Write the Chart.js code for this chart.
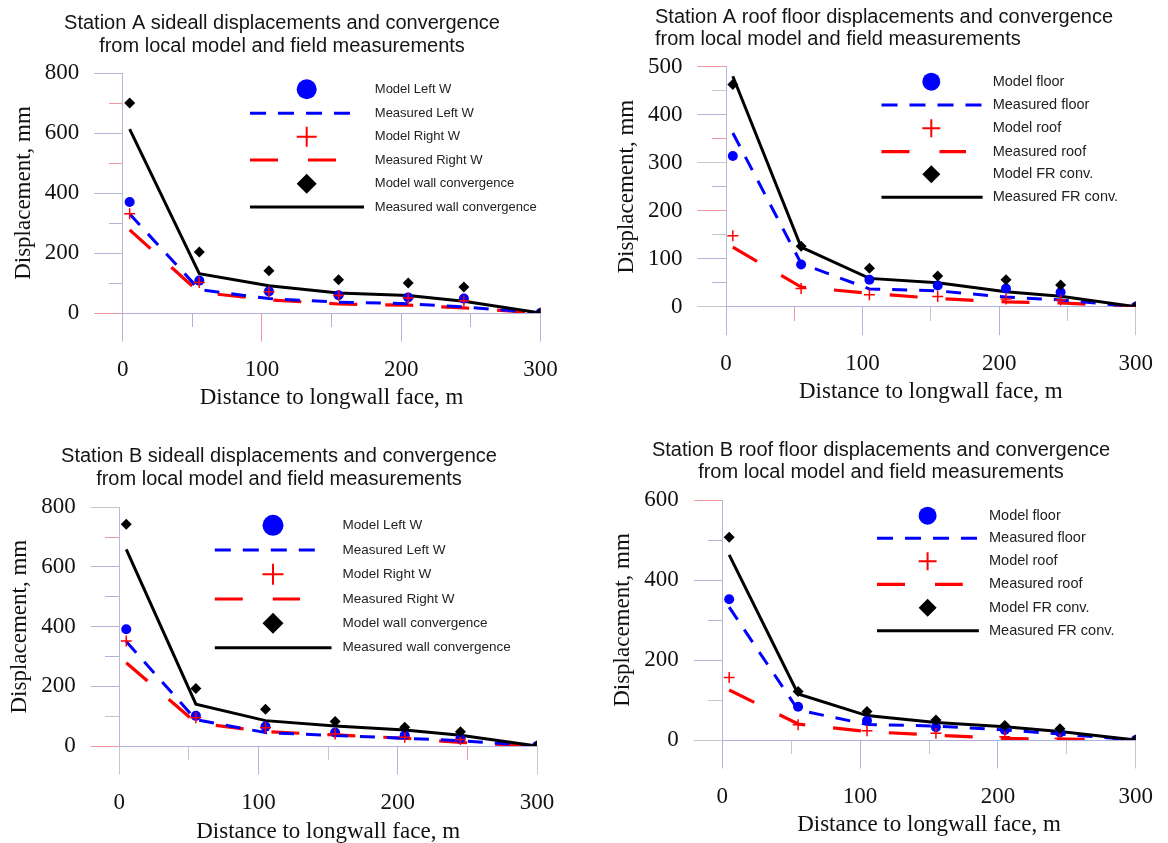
<!DOCTYPE html>
<html>
<head>
<meta charset="utf-8">
<script src="https://cdn.jsdelivr.net/npm/chart.js@4.4.1/dist/chart.umd.min.js"></script>
<style>
html,body{margin:0;padding:0;background:#fff;}
body{width:1168px;height:843px;position:relative;overflow:hidden;}
canvas{position:absolute;}
</style>
</head>
<body>
<canvas id="cTL" width="584" height="421" style="left:0px;top:0px"></canvas>
<canvas id="cTR" width="584" height="421" style="left:584px;top:0px"></canvas>
<canvas id="cBL" width="584" height="422" style="left:0px;top:421px"></canvas>
<canvas id="cBR" width="584" height="422" style="left:584px;top:421px"></canvas>
<script>
// ---------------- DATA ----------------
const distance = [5, 55, 105, 155, 205, 245, 300];

const sideLabels = ['Model Left W', 'Measured Left W', 'Model Right W', 'Measured Right W', 'Model wall convergence', 'Measured wall convergence'];
const roofLabels = ['Model floor', 'Measured floor', 'Model roof', 'Measured roof', 'Model FR conv.', 'Measured FR conv.'];

const titleA_side = ['Station A sideall displacements and convergence', 'from local model and field measurements'];
const titleA_roof = ['Station A roof floor displacements and convergence', 'from local model and field measurements'];
const titleB_side = ['Station B sideall displacements and convergence', 'from local model and field measurements'];
const titleB_roof = ['Station B roof floor displacements and convergence', 'from local model and field measurements'];

const xAxisTitle = 'Distance to longwall face, m';
const yAxisTitle = 'Displacement, mm';

// Station A sidewall
const aSideModelLeft  = [370, 108, 72, 59, 52, 48, 0];
const aSideMeasLeft   = [330, 78, 48, 36, 31, 20, 0];
const aSideModelRight = [331, 102, 71, 58, 50, 41, 0];
const aSideMeasRight  = [277, 69, 44, 30, 26, 17, 0];
const aSideModelConv  = [700, 203, 141, 111, 100, 87, 0];
const aSideMeasConv   = [613, 131, 91, 67, 58, 39, 0];

// Station A roof / floor
const aRoofModelFloor = [314, 88, 56, 44, 38, 30, 0];
const aRoofMeasFloor  = [362, 90, 37, 33, 20, 14, 0];
const aRoofModelRoof  = [148, 38, 25, 21, 16, 14, 0];
const aRoofMeasRoof   = [124, 41, 28, 17, 10, 8, 0];
const aRoofModelConv  = [463, 126, 80, 64, 56, 45, 0];
const aRoofMeasConv   = [480, 124, 59, 50, 31, 22, 0];

// Station B sidewall
const bSideModelLeft  = [391, 101, 65, 45, 36, 25, 0];
const bSideMeasLeft   = [350, 88, 45, 35, 26, 18, 0];
const bSideModelRight = [352, 95, 61, 40, 29, 22, 0];
const bSideMeasRight  = [279, 78, 48, 37, 26, 12, 0];
const bSideModelConv  = [743, 193, 123, 82, 63, 48, 0];
const bSideMeasConv   = [659, 140, 85, 67, 54, 36, 0];

// Station B roof / floor
const bRoofModelFloor = [352, 83, 48, 32, 25, 19, 0];
const bRoofMeasFloor  = [332, 75, 39, 35, 25, 15, 0];
const bRoofModelRoof  = [156, 38, 23, 17, 8, 4, 0];
const bRoofMeasRoof   = [125, 40, 21, 12, 4, 2, 0];
const bRoofModelConv  = [507, 121, 71, 50, 36, 28, 0];
const bRoofMeasConv   = [463, 115, 61, 44, 33, 21, 0];

// ---------------- STYLE ----------------
const SANS = '"Liberation Sans", Arial, sans-serif';
const SERIF = '"Liberation Serif", "Times New Roman", serif';
const TC = { r: '#ee98a0', b: '#b3b3d8', g: '#c6c6c6' };

function tickColorFn(map) {
  return (ctx) => {
    const v = ctx.tick ? ctx.tick.value : null;
    const k = map[v];
    return k ? TC[k] : 'rgba(0,0,0,0)';
  };
}

const insideLegend = {
  id: 'insideLegend',
  afterDraw(chart, args, o) {
    if (!o || !o.rows) return;
    const ctx = chart.ctx;
    ctx.save();
    chart.data.datasets.forEach((d, i) => {
      const y = o.rows[i];
      if (d.showLine) {
        ctx.beginPath();
        ctx.setLineDash(o.dash[i] || []);
        ctx.lineWidth = d.borderWidth;
        ctx.strokeStyle = d.borderColor;
        ctx.lineCap = 'butt';
        ctx.moveTo(o.lineX1, y);
        ctx.lineTo(o.lineX2[i], y);
        ctx.stroke();
        ctx.setLineDash([]);
      } else {
        const bw = d.pointStyle === 'cross' ? 2 : 0;
        ctx.fillStyle = d.backgroundColor || d.borderColor;
        ctx.strokeStyle = d.borderColor;
        ctx.lineWidth = bw;
        Chart.helpers.drawPoint(ctx, {pointStyle: d.pointStyle, rotation: 0, radius: o.markerR, borderWidth: bw}, o.symbolX, y);
      }
      ctx.fillStyle = '#222';
      ctx.font = o.fontSize + 'px ' + SANS;
      ctx.textAlign = 'left';
      ctx.textBaseline = 'middle';
      ctx.fillText(d.label, o.textX, y);
    });
    ctx.restore();
  }
};

// lets a left-aligned title start at a chosen x
const titleShift = {
  id: 'titleShift',
  afterLayout(chart, args, o) {
    if (o && typeof o.left === 'number' && chart.titleBlock) {
      chart.titleBlock.left = o.left;
    }
  }
};

function series(vals) {
  return distance.map((x, i) => ({x: x, y: vals[i]}));
}

function makeChart(id, P) {
  const L = P.labels;
  const datasets = [
    {label: L[0], data: series(P.s[0]), pointStyle: 'circle', pointRadius: 5, backgroundColor: '#0000ff', borderColor: '#0000ff', borderWidth: 0, order: -1},
    {label: L[1], data: series(P.s[1]), showLine: true, borderColor: '#0000ff', backgroundColor: '#0000ff', borderWidth: 3, borderDash: [15, 12], pointRadius: 0, tension: 0, order: 2},
    {label: L[2], data: series(P.s[2]), pointStyle: 'cross', pointRadius: 5.5, borderColor: '#ff0000', backgroundColor: '#ff0000', borderWidth: 1.5, order: -2},
    {label: L[3], data: series(P.s[3]), showLine: true, borderColor: '#ff0000', backgroundColor: '#ff0000', borderWidth: 3.2, borderDash: [28, 28], pointRadius: 0, tension: 0, order: 3},
    {label: L[4], data: series(P.s[4]), pointStyle: 'rectRot', pointRadius: 5.5, backgroundColor: '#000000', borderColor: '#000000', borderWidth: 0, order: -3},
    {label: L[5], data: series(P.s[5]), showLine: true, borderColor: '#000000', backgroundColor: '#000000', borderWidth: 3, pointRadius: 0, tension: 0, order: 1}
  ];
  const scales = {
    x: {
      type: 'linear', position: 'bottom', min: 0, max: 300,
      afterFit: (s) => { s.height = P.xHeight; },
      ticks: {stepSize: 100, autoSkip: false, maxRotation: 0, padding: 15, color: '#111', font: {family: SERIF, size: 23, lineHeight: 1.2}},
      grid: {drawOnChartArea: false, drawTicks: true, tickLength: 28.5, lineWidth: 1, color: tickColorFn(P.xMajor)},
      border: {display: true, color: '#b0b0de', width: 1},
      title: {display: true, text: xAxisTitle, color: '#111', font: {family: SERIF, size: 23, lineHeight: 1}, padding: {top: 0, bottom: P.xTitlePad}}
    },
    y: {
      type: 'linear', position: 'left', min: 0, max: P.yMax,
      afterFit: (s) => { s.width = P.yWidth; },
      ticks: {stepSize: P.yStep, padding: 15, color: '#111', font: {family: SERIF, size: 23, lineHeight: 1.2}},
      grid: {drawOnChartArea: false, drawTicks: true, tickLength: 28.5, lineWidth: 1, color: tickColorFn(P.yMajor)},
      border: {display: true, color: '#b8b8d8', width: 1},
      title: {display: true, text: yAxisTitle, color: '#111', font: {family: SERIF, size: 23, lineHeight: 1}, padding: {top: P.yTitlePad, bottom: 0}}
    },
    xm: {
      type: 'linear', axis: 'x', position: {y: 0}, min: 0, max: 300,
      ticks: {stepSize: 50, display: false},
      grid: {drawOnChartArea: false, drawTicks: true, tickLength: 14, lineWidth: 1, color: tickColorFn(P.xMinor)},
      border: {display: false}
    },
    ym: {
      type: 'linear', axis: 'y', position: {x: 0}, min: 0, max: P.yMax,
      ticks: {stepSize: P.yMinorStep, display: false},
      grid: {drawOnChartArea: false, drawTicks: true, tickLength: 14, lineWidth: 1, color: tickColorFn(P.yMinor)},
      border: {display: false}
    }
  };
  if (P.rightW > 0) {
    scales.yr = {
      type: 'linear', axis: 'y', position: 'right', display: true,
      afterFit: (s) => { s.width = P.rightW; },
      ticks: {display: false}, grid: {display: false}, border: {display: false}
    };
  }
  return new Chart(document.getElementById(id), {
    type: 'scatter',
    data: {datasets: datasets},
    options: {
      responsive: false, animation: false, devicePixelRatio: 1,
      layout: {padding: {left: P.padL, right: P.padR, top: 0, bottom: 0}},
      plugins: {
        legend: {display: false},
        tooltip: {enabled: false},
        title: {display: true, text: P.title, align: P.titleAlign, color: '#151515',
          font: {family: SANS, size: 20, weight: 'normal', lineHeight: P.titleLH},
          padding: {top: P.titlePadTop, bottom: P.titlePadBottom}},
        insideLegend: P.legend,
        titleShift: {left: P.titleLeft}
      },
      scales: scales
    },
    plugins: [insideLegend, titleShift]
  });
}

const legendDash = [[], [16, 12], [], [28, 30], [], []];

makeChart('cTL', {
  labels: sideLabels, title: titleA_side,
  s: [aSideModelLeft, aSideMeasLeft, aSideModelRight, aSideMeasRight, aSideModelConv, aSideMeasConv],
  padL: 0, padR: 20, rightW: 23.5, yWidth: 122.7, xHeight: 108,
  titleAlign: 'center', titleLH: 1.135, titlePadTop: 12, titlePadBottom: 15.6,
  yMax: 800, yStep: 200, yMinorStep: 100, yTitlePad: 12.5, xTitlePad: 11.2,
  yMajor: {0: 'r', 200: 'b', 400: 'b', 600: 'b', 800: 'b'},
  yMinor: {100: 'b', 300: 'b', 500: 'r', 700: 'r'},
  xMajor: {0: 'b', 100: 'r', 200: 'b', 300: 'b'},
  xMinor: {50: 'b', 150: 'b', 250: 'b'},
  legend: {rows: [89.3, 113.3, 136.7, 160, 183.7, 207], symbolX: 306.7, lineX1: 250,
    lineX2: [0, 350, 0, 336, 0, 364], dash: legendDash, textX: 374.8, fontSize: 13, markerR: 10}
});

makeChart('cTR', {
  labels: roofLabels, title: titleA_roof,
  s: [aRoofModelFloor, aRoofMeasFloor, aRoofModelRoof, aRoofMeasRoof, aRoofModelConv, aRoofMeasConv],
  padL: 0, padR: 23, rightW: 0, yWidth: 142, xHeight: 114.3,
  titleAlign: 'start', titleLeft: 71, titleLH: 1.1, titlePadTop: 6.3, titlePadBottom: 16.4,
  yMax: 500, yStep: 100, yMinorStep: 50, yTitlePad: 31.3, xTitlePad: 17.8,
  yMajor: {0: 'g', 100: 'b', 200: 'r', 300: 'g', 400: 'b', 500: 'r'},
  yMinor: {50: 'b', 150: 'g', 250: 'b', 350: 'r', 450: 'g'},
  xMajor: {0: 'b', 100: 'b', 200: 'b', 300: 'g'},
  xMinor: {50: 'r', 150: 'g', 250: 'g'},
  legend: {rows: [81.7, 105, 128.3, 151.7, 174.3, 197.3], symbolX: 347.3, lineX1: 297.5,
    lineX2: [0, 397.5, 0, 382, 0, 398.6], dash: legendDash, textX: 408.7, fontSize: 14.5, markerR: 9}
});

makeChart('cBL', {
  labels: sideLabels, title: titleB_side,
  s: [bSideModelLeft, bSideMeasLeft, bSideModelRight, bSideMeasRight, bSideModelConv, bSideMeasConv],
  padL: 0, padR: 26, rightW: 21, yWidth: 119.3, xHeight: 97,
  titleAlign: 'center', titleLH: 1.13, titlePadTop: 24.4, titlePadBottom: 16.7,
  yMax: 800, yStep: 200, yMinorStep: 100, yTitlePad: 8.9, xTitlePad: 0,
  yMajor: {0: 'r', 200: 'b', 400: 'b', 600: 'b', 800: 'g'},
  yMinor: {100: 'g', 300: 'b', 500: 'b', 700: 'r'},
  xMajor: {0: 'g', 100: 'b', 200: 'b', 300: 'g'},
  xMinor: {50: 'g', 150: 'g', 250: 'r'},
  legend: {rows: [104.3, 129, 153.3, 178, 202.3, 226.7], symbolX: 273, lineX1: 214.8,
    lineX2: [0, 314.8, 0, 300, 0, 331.5], dash: legendDash, textX: 342.6, fontSize: 13.5, markerR: 10.5}
});

makeChart('cBR', {
  labels: roofLabels, title: titleB_roof,
  s: [bRoofModelFloor, bRoofMeasFloor, bRoofModelRoof, bRoofMeasRoof, bRoofModelConv, bRoofMeasConv],
  padL: 10, padR: 0, rightW: 26, yWidth: 128.3, xHeight: 103,
  titleAlign: 'center', titleLH: 1.1, titlePadTop: 18.7, titlePadBottom: 16.3,
  yMax: 600, yStep: 200, yMinorStep: 100, yTitlePad: 17.5, xTitlePad: 6.5,
  yMajor: {0: 'g', 200: 'b', 400: 'b', 600: 'r'},
  yMinor: {100: 'g', 300: 'b', 500: 'b'},
  xMajor: {0: 'b', 100: 'b', 200: 'b', 300: 'g'},
  xMinor: {50: 'g', 150: 'g', 250: 'g'},
  legend: {rows: [94.7, 117.3, 140.3, 163.3, 186.7, 209.7], symbolX: 343.6, lineX1: 293,
    lineX2: [0, 393, 0, 378.8, 0, 394.9], dash: legendDash, textX: 405, fontSize: 14.5, markerR: 9}
});
</script>
</body>
</html>
